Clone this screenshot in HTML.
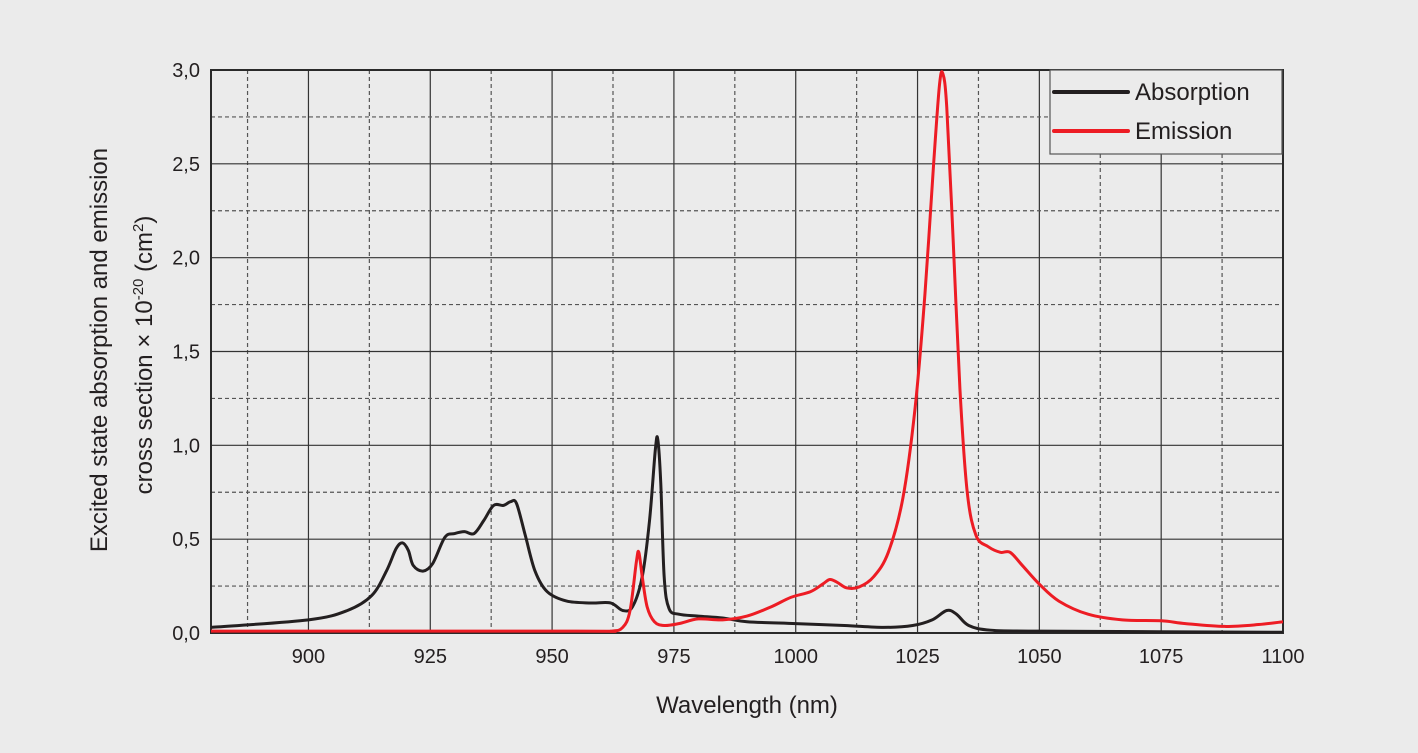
<!DOCTYPE html>
<html><head><meta charset="utf-8"><style>
html,body{margin:0;padding:0;background:#ebebeb;}
svg{display:block;font-family:"Liberation Sans",sans-serif;}
</style></head><body>
<svg id="s" width="1418" height="753" viewBox="0 0 1418 753">
<defs><clipPath id="c"><rect x="211" y="70" width="1072" height="563"/></clipPath></defs>
<rect width="1418" height="753" fill="#ebebeb"/>
<g id="grid"></g>
<rect x="211" y="70" width="1072" height="563" fill="none" stroke="#2a2a2a" stroke-width="2"/>
<g clip-path="url(#c)">
<path id="abs" fill="none" stroke="#231f20" stroke-width="3" stroke-linejoin="round"/>
<path id="em" fill="none" stroke="#ed1c24" stroke-width="3" stroke-linejoin="round"/>
</g>
<rect x="1050" y="70" width="232" height="84" fill="#ebebeb" stroke="#555" stroke-width="1.2"/>
<line x1="1054" y1="92" x2="1128" y2="92" stroke="#231f20" stroke-width="4" stroke-linecap="round"/>
<line x1="1054" y1="131" x2="1128" y2="131" stroke="#ed1c24" stroke-width="4" stroke-linecap="round"/>
<text x="1135" y="100" font-size="24" fill="#231f20">Absorption</text>
<text x="1135" y="139" font-size="24" fill="#231f20">Emission</text>
<g id="lbl" font-size="20" fill="#231f20"></g>
<text x="747" y="713" font-size="24" text-anchor="middle" fill="#231f20">Wavelength (nm)</text>
<g transform="translate(107,350) rotate(-90)"><text x="0" y="0" font-size="24" text-anchor="middle" fill="#231f20">Excited state absorption and emission</text></g>
<g transform="translate(152,355) rotate(-90)"><text x="0" y="0" font-size="24" text-anchor="middle" fill="#231f20">cross section × 10<tspan dy="-9" font-size="15">-20</tspan><tspan dy="9"> (cm</tspan><tspan dy="-9" font-size="15">2</tspan><tspan dy="9">)</tspan></text></g>
</svg>
<script>
var X=function(n){return 211+(n-880)*1072/220},Y=function(v){return 633-v*563/3};
var g=document.getElementById('grid'),L=document.getElementById('lbl'),NS='http://www.w3.org/2000/svg';
function ln(x1,y1,x2,y2,d){var e=document.createElementNS(NS,'line');e.setAttribute('x1',x1);e.setAttribute('y1',y1);e.setAttribute('x2',x2);e.setAttribute('y2',y2);e.setAttribute('stroke',d?'#555':'#333');e.setAttribute('stroke-width',1.2);if(d)e.setAttribute('stroke-dasharray','4,3');g.appendChild(e);}
function tx(x,y,s,a){var e=document.createElementNS(NS,'text');e.setAttribute('x',x);e.setAttribute('y',y);e.setAttribute('text-anchor',a);e.textContent=s;L.appendChild(e);}
for(var n=887.5;n<1100;n+=12.5){var solid=(n%25===0);ln(X(n),70,X(n),633,!solid);if(solid&&n>=900)tx(X(n),663,String(n),'middle');}
for(var v=0.25;v<3;v+=0.25){ln(211,Y(v),1283,Y(v),Math.abs(v*2-Math.round(v*2))>0.01);}
for(var v=0;v<=3;v+=0.5)tx(200,Y(v)+7,v.toFixed(1).replace('.',','),'end');
tx(X(1100),663,'1100','middle');
function path(p){var q=p.map(function(a){return[X(a[0]),Y(a[1])]});var d='M'+q[0][0]+','+q[0][1];
for(var i=0;i<q.length-1;i++){var p0=q[i-1]||q[i],p1=q[i],p2=q[i+1],p3=q[i+2]||p2;
d+=' C'+(p1[0]+(p2[0]-p0[0])/6)+','+(p1[1]+(p2[1]-p0[1])/6)+' '+(p2[0]-(p3[0]-p1[0])/6)+','+(p2[1]-(p3[1]-p1[1])/6)+' '+p2[0]+','+p2[1];}return d;}
var A=[[880,0.03],[900,0.07],[908,0.12],[913,0.2],[916,0.33],[918,0.45],[919.3,0.48],[920.5,0.44],[921.5,0.36],[923.5,0.33],[925.5,0.37],[928,0.51],[930,0.53],[932,0.54],[934,0.53],[936,0.6],[938,0.68],[940,0.68],[941.5,0.7],[942.7,0.69],[944.5,0.52],[946.5,0.33],[949,0.22],[953,0.17],[958,0.16],[962,0.16],[964.5,0.12],[966.5,0.14],[968.5,0.3],[970,0.6],[971.2,0.98],[971.7,1.03],[972.3,0.8],[973,0.3],[974,0.13],[976,0.1],[980,0.09],[985,0.08],[990,0.06],[1000,0.05],[1010,0.04],[1018,0.03],[1024,0.04],[1028,0.07],[1031,0.12],[1033,0.1],[1035.5,0.04],[1040,0.015],[1050,0.01],[1100,0.004]];
var E=[[880,0.01],[955,0.01],[962,0.01],[964.5,0.03],[966,0.12],[967.3,0.38],[967.8,0.43],[968.5,0.3],[969.5,0.14],[971,0.06],[973,0.04],[976,0.05],[980,0.075],[985,0.07],[990,0.09],[995,0.14],[999,0.19],[1003,0.22],[1005.5,0.26],[1007,0.285],[1008.5,0.27],[1010.5,0.24],[1013,0.245],[1016,0.3],[1019,0.43],[1022,0.72],[1024.5,1.2],[1026.5,1.8],[1028.3,2.5],[1029.5,2.92],[1030.2,2.98],[1031,2.8],[1032.3,2.1],[1033.7,1.3],[1035.2,0.75],[1037,0.52],[1039.5,0.46],[1042,0.43],[1044,0.43],[1046.5,0.36],[1050,0.26],[1054,0.17],[1060,0.1],[1067,0.07],[1075,0.065],[1080,0.05],[1088,0.035],[1095,0.045],[1100,0.06]];
document.getElementById('abs').setAttribute('d',path(A));
document.getElementById('em').setAttribute('d',path(E));
</script>
</body></html>
